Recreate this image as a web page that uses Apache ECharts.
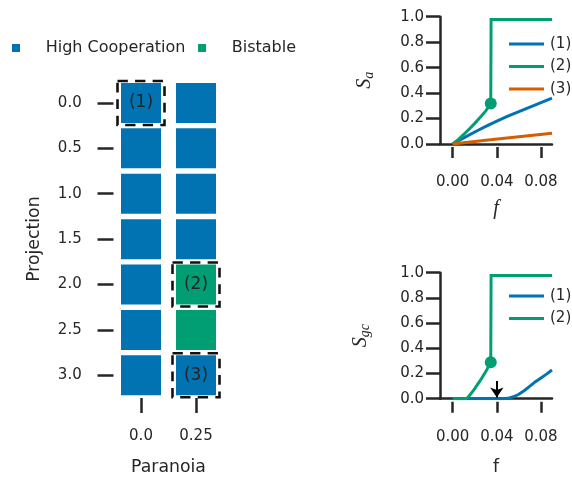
<!DOCTYPE html>
<html>
<head>
<meta charset="utf-8">
<script src="https://cdn.jsdelivr.net/npm/echarts@6/dist/echarts.min.js"></script>
<style>
  html, body { margin: 0; padding: 0; background: #fff; }
  #chart { width: 572px; height: 481px; }
</style>
</head>
<body>
<div id="chart"></div>
<script>
// heatmap: regime per (paranoia, projection)
const paranoia = ["0.0", "0.25"];
const projection = ["0.0", "0.5", "1.0", "1.5", "2.0", "2.5", "3.0"];
const regimes = ["High Cooperation", "Bistable"];
const regimeAtP0 = [0, 0, 0, 0, 0, 0, 0];
const regimeAtP25 = [0, 0, 0, 0, 1, 1, 0];
const marked = [["0.0", "0.0", "(1)"], ["0.25", "2.0", "(2)"], ["0.25", "3.0", "(3)"]];

// S_a vs f
const fSa1 = [0, 0.01, 0.02, 0.03, 0.04, 0.05, 0.06, 0.07, 0.08, 0.09];
const sa1 = [0, 0.048, 0.094, 0.138, 0.18, 0.218, 0.254, 0.29, 0.325, 0.36];
const fSa2 = [0, 0.005, 0.01, 0.015, 0.02, 0.025, 0.03, 0.0345, 0.0348, 0.09];
const sa2 = [0, 0.035, 0.075, 0.118, 0.162, 0.21, 0.26, 0.318, 0.978, 0.978];
const fSa3 = [0, 0.03, 0.06, 0.09];
const sa3 = [0, 0.029, 0.057, 0.084];
const saDot = [0.0345, 0.318];

// S_gc vs f
const fSgc1 = [0, 0.045, 0.05, 0.055, 0.06, 0.065, 0.07, 0.075, 0.08, 0.085, 0.09];
const sgc1 = [0, 0, 0.003, 0.015, 0.035, 0.065, 0.1, 0.135, 0.165, 0.195, 0.228];
const fSgc2 = [0, 0.012, 0.014, 0.017, 0.02, 0.025, 0.03, 0.0345, 0.0348, 0.09];
const sgc2 = [0, 0, 0.012, 0.045, 0.08, 0.145, 0.215, 0.29, 0.978, 0.978];
const sgcDot = [0.0345, 0.29];
const arrow = [0.04, 0.14, 0.01]; // f, from, to

const fTicks = [0, 0.04, 0.08];

const BLUE = "#0173B2", GREEN = "#029E73", RED = "#D55E00";
const INK = "#262626";
const FONT = "DejaVu Sans";

const zip = (xs, ys) => xs.map((x, i) => [x, ys[i]]);

const cells = (k) => {
  const out = [];
  [regimeAtP0, regimeAtP25].forEach((col, ci) => {
    col.forEach((r, ri) => { if (r === k) out.push([paranoia[ci], projection[ri]]); });
  });
  return out;
};

const chart = echarts.init(document.getElementById("chart"));

const tickStyle = { color: INK, width: 2.5 };
const label15 = { color: INK, fontSize: 15, fontFamily: FONT };
const mathName = (sub) => ({
  name: "{s|S}{b|" + sub + "}",
  nameTextStyle: {
    rich: {
      s: { fontFamily: "Liberation Serif", fontStyle: "italic", fontSize: 20, color: INK },
      b: { fontFamily: "Liberation Serif", fontStyle: "italic", fontSize: 14, color: INK, padding: [8, 0, 0, 0] },
    },
  },
});

// x axis for a line panel: one carries the spine at y=0, the other the offset ticks
const lineX = (grid, withName) => [
  {
    type: "value", gridIndex: grid, min: -0.0115, max: 0.09, position: "bottom",
    axisLine: { show: true, onZero: false, lineStyle: tickStyle },
    axisTick: { show: false }, axisLabel: { show: false }, splitLine: { show: false },
  },
  Object.assign({
    type: "value", gridIndex: grid, min: -0.0115, max: 0.09, position: "bottom", offset: 3,
    axisLine: { show: false, onZero: false },
    axisTick: { show: true, length: 11, lineStyle: tickStyle, customValues: fTicks },
    axisLabel: Object.assign({ margin: 28, customValues: fTicks, formatter: (v) => v.toFixed(2) }, label15),
    splitLine: { show: false },
    nameLocation: "middle",
  }, withName),
];

const lineY = (grid, nameObj, gap) => Object.assign({
  type: "value", gridIndex: grid, min: 0, max: 1, interval: 0.2,
  axisLine: { show: true, onZero: false, lineStyle: tickStyle },
  axisTick: { show: true, length: 14, lineStyle: tickStyle },
  axisLabel: Object.assign({ margin: 16, formatter: (v) => v.toFixed(1) }, label15),
  splitLine: { show: false },
  nameLocation: "middle", nameRotate: 90, nameGap: gap,
}, nameObj);

const line = (name, data, color, xi, yi, extra) => Object.assign({
  name, type: "line", data, xAxisIndex: xi, yAxisIndex: yi,
  showSymbol: false, symbol: "none", silent: true,
  lineStyle: { color, width: 3, join: "miter", cap: "butt" },
  itemStyle: { color }, z: 3,
}, extra || {});

const sideLegend = (names, top) => ({
  data: names, orient: "vertical", left: 504, top,
  icon: "rect", itemWidth: 35, itemHeight: 3, itemGap: 7.5,
  textStyle: { color: INK, fontSize: 15, fontFamily: FONT, lineHeight: 15, padding: [0, 0, 0, 1] },
  selectedMode: false,
});

const option = {
  animation: false,
  textStyle: { fontFamily: FONT },
  grid: [
    { left: 113.5, top: 80.25, width: 110, height: 318.5 },
    { left: 440, top: 16.7, width: 112, height: 127.3 },
    { left: 440, top: 272.7, width: 112, height: 126 },
  ],
  legend: [
    {
      data: regimes, left: 7, top: 35, icon: "rect", itemWidth: 8, itemHeight: 8, itemGap: 12.7,
      textStyle: { color: INK, fontSize: 16, fontFamily: FONT, lineHeight: 16, padding: [0, 0, 0, 20.7] },
      selectedMode: false,
    },
    sideLegend(["(1)", "(2)", "(3)"], 31.5),
    sideLegend(["(1)", "(2)"], 283.5),
  ],
  xAxis: [
    {
      type: "category", gridIndex: 0, data: paranoia,
      axisLine: { show: false },
      axisTick: { show: true, alignWithLabel: true, length: 15, lineStyle: tickStyle },
      axisLabel: Object.assign({ margin: 31 }, label15),
      name: "Paranoia", nameLocation: "middle", nameGap: 61,
      nameTextStyle: { color: INK, fontSize: 17.3, fontFamily: FONT },
    },
    ...lineX(1, { name: "f", nameGap: 52, nameTextStyle: { fontFamily: "Liberation Serif", fontStyle: "italic", fontSize: 20, color: INK } }),
    ...lineX(2, { name: "f", nameGap: 57, nameTextStyle: { fontFamily: FONT, fontSize: 17.3, color: INK } }),
  ],
  yAxis: [
    {
      type: "category", gridIndex: 0, data: projection, inverse: true,
      axisLine: { show: false },
      axisTick: { show: true, alignWithLabel: true, length: 16, lineStyle: tickStyle },
      axisLabel: Object.assign({ margin: 31.8 }, label15),
      name: "Projection", nameLocation: "middle", nameRotate: 90, nameGap: 70,
      nameTextStyle: { color: INK, fontSize: 17.3, fontFamily: FONT },
    },
    lineY(1, mathName("a"), 64),
    lineY(2, mathName("gc"), 68),
  ],
  series: [
    {
      name: regimes[0], type: "scatter", xAxisIndex: 0, yAxisIndex: 0, data: cells(0),
      symbol: "rect", symbolSize: [40, 40], itemStyle: { color: BLUE, opacity: 1 }, silent: true,
    },
    {
      name: regimes[1], type: "scatter", xAxisIndex: 0, yAxisIndex: 0, data: cells(1),
      symbol: "rect", symbolSize: [40, 40], itemStyle: { color: GREEN, opacity: 1 }, silent: true,
    },
    {
      name: "marked", type: "scatter", xAxisIndex: 0, yAxisIndex: 0, data: marked, z: 5,
      symbol: "rect", symbolSize: [47, 44], silent: true,
      itemStyle: { color: "rgba(0,0,0,0)", borderColor: "#111", borderWidth: 2.5, borderType: [10, 7], opacity: 1 },
      label: { show: true, position: "inside", formatter: (p) => p.data[2], color: INK, fontSize: 17, fontFamily: FONT },
    },
    line("(1)", zip(fSa1, sa1), BLUE, 1, 1),
    line("(2)", zip(fSa2, sa2), GREEN, 1, 1),
    line("(3)", zip(fSa3, sa3), RED, 1, 1),
    {
      name: "dotA", type: "scatter", xAxisIndex: 1, yAxisIndex: 1, data: [saDot],
      symbolSize: 12, itemStyle: { color: GREEN, opacity: 1 }, z: 4, silent: true,
    },
    line("(1)", zip(fSgc1, sgc1), BLUE, 3, 2, {
      markLine: {
        silent: true, symbol: ["none", "arrow"], symbolSize: 10,
        lineStyle: { color: "#000", width: 2, type: "solid" }, label: { show: false },
        data: [[{ coord: [arrow[0], arrow[1]] }, { coord: [arrow[0], arrow[2]] }]],
      },
    }),
    line("(2)", zip(fSgc2, sgc2), GREEN, 3, 2),
    {
      name: "dotGc", type: "scatter", xAxisIndex: 3, yAxisIndex: 2, data: [sgcDot],
      symbolSize: 12, itemStyle: { color: GREEN, opacity: 1 }, z: 4, silent: true,
    },
  ],
};

chart.setOption(option);
</script>
</body>
</html>
